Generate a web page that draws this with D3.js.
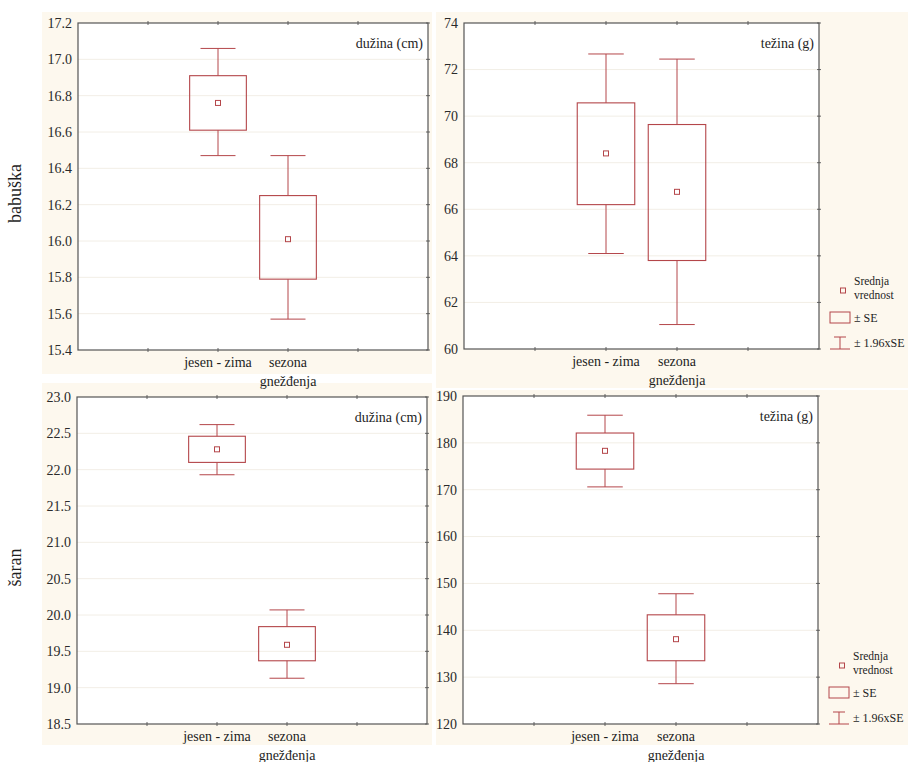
<!DOCTYPE html>
<html>
<head>
<meta charset="utf-8">
<script src="https://cdn.jsdelivr.net/npm/d3@7"></script>
<style>
  body { margin: 0; background: #fff; }
  svg { display: block; }
  svg text { font-family: "Liberation Serif", "DejaVu Serif", "Times New Roman", Times, serif; }
</style>
</head>
<body>
<svg id="chart" width="908" height="762"></svg>
<script>
// categories on the x axis (outer slots are empty, as in the original)
const groups = ['jesen - zima', 'sezona gnežđenja'];
const slots = ['left', ...groups, 'right'];
const species = ['babuška', 'šaran'];
const variables = ['dužina (cm)', 'težina (g)'];
const legendLabels = ['Srednja', 'vrednost', '± SE', '± 1.96xSE'];

// per group: [mean + 1.96SE, mean + SE, mean, mean - SE, mean - 1.96SE]
const babuskaDuzina = [[17.06, 16.91, 16.76, 16.61, 16.47], [16.47, 16.25, 16.01, 15.79, 15.57]];
const babuskaTezina = [[72.67, 70.57, 68.4, 66.2, 64.1], [72.45, 69.64, 66.75, 63.8, 61.05]];
const saranDuzina = [[22.62, 22.46, 22.28, 22.1, 21.93], [20.07, 19.84, 19.59, 19.37, 19.13]];
const saranTezina = [[185.9, 182.1, 178.3, 174.4, 170.6], [147.8, 143.3, 138.1, 133.5, 128.6]];

// y ticks
const babuskaDuzinaTicks = [15.4, 15.6, 15.8, 16.0, 16.2, 16.4, 16.6, 16.8, 17.0, 17.2];
const babuskaTezinaTicks = [60, 62, 64, 66, 68, 70, 72, 74];
const saranDuzinaTicks = [18.5, 19.0, 19.5, 20.0, 20.5, 21.0, 21.5, 22.0, 22.5, 23.0];
const saranTezinaTicks = [120, 130, 140, 150, 160, 170, 180, 190];

const red = '#b4464a';
const cream = '#fdf8ee';
const ink = '#1e1e1e';
const svg = d3.select('#chart');
const bgLayer = svg.append('g');

const panels = [
  { data: babuskaDuzina, ticks: babuskaDuzinaTicks, fmt: '.1f', title: variables[0], x: 78, y: 23, w: 350, h: 327, bg: [42, 12, 390, 362], legend: false },
  { data: babuskaTezina, ticks: babuskaTezinaTicks, fmt: 'd', title: variables[1], x: 464, y: 23, w: 355, h: 326, bg: [436, 12, 472, 376], legend: true },
  { data: saranDuzina, ticks: saranDuzinaTicks, fmt: '.1f', title: variables[0], x: 77, y: 397, w: 350, h: 327, bg: [42, 383, 390, 362], legend: false },
  { data: saranTezina, ticks: saranTezinaTicks, fmt: 'd', title: variables[1], x: 463, y: 396, w: 355, h: 328, bg: [436, 390, 472, 355], legend: true }
];

function drawPanel(p) {
  const [bx, by, bw, bh] = p.bg;
  bgLayer.append('rect').attr('x', bx).attr('y', by).attr('width', bw).attr('height', bh).attr('fill', cream);

  const g = svg.append('g').attr('transform', `translate(${p.x},${p.y})`);
  const x = d3.scalePoint().domain(slots).range([0, p.w]).padding(1);
  const y = d3.scaleLinear().domain(d3.extent(p.ticks)).range([p.h, 0]);
  const step = x.step();
  const fmt = d3.format(p.fmt);

  g.append('rect').attr('width', p.w).attr('height', p.h).attr('fill', '#fff');

  g.selectAll('.grid').data(p.ticks.slice(1, -1)).join('line')
    .attr('x1', 0).attr('x2', p.w).attr('y1', (d) => y(d)).attr('y2', (d) => y(d))
    .attr('stroke', '#f2eee6').attr('stroke-width', 1);

  // tick marks on all four sides
  g.selectAll('.ty').data(p.ticks).join('line')
    .attr('x1', p.w - 2).attr('x2', p.w + 2).attr('y1', (d) => y(d)).attr('y2', (d) => y(d))
    .attr('stroke', '#666');
  g.selectAll('.tx').data(slots).join('g').each(function (d) {
    const s = d3.select(this);
    s.append('line').attr('x1', x(d)).attr('x2', x(d)).attr('y1', -2).attr('y2', 2).attr('stroke', '#666');
    s.append('line').attr('x1', x(d)).attr('x2', x(d)).attr('y1', p.h - 2).attr('y2', p.h + 2).attr('stroke', '#666');
  });

  g.append('rect').attr('width', p.w).attr('height', p.h)
    .attr('fill', 'none').attr('stroke', '#555').attr('stroke-width', 1.2);

  g.selectAll('.yl').data(p.ticks).join('text')
    .attr('x', -6).attr('y', (d) => y(d)).attr('dy', '0.35em')
    .attr('text-anchor', 'end').attr('font-size', 14).attr('fill', '#2a2a2a')
    .text((d) => fmt(d));

  // x labels
  g.append('text').attr('x', x(groups[0])).attr('y', p.h + 17)
    .attr('text-anchor', 'middle').attr('font-size', 14).attr('fill', ink).text(groups[0]);
  const parts = groups[1].split(' ');
  parts.forEach((t, i) => {
    g.append('text').attr('x', x(groups[1])).attr('y', p.h + 17 + i * 19)
      .attr('text-anchor', 'middle').attr('font-size', 14).attr('fill', ink).text(t);
  });

  g.append('text').attr('x', p.w - 5).attr('y', 25)
    .attr('text-anchor', 'end').attr('font-size', 14).attr('fill', ink).text(p.title);

  const boxW = step * 0.81;
  const capW = step * 0.5;
  const boxes = g.selectAll('.box').data(p.data).join('g')
    .attr('transform', (d, i) => `translate(${x(groups[i])},0)`);
  boxes.append('line').attr('y1', (d) => y(d[0])).attr('y2', (d) => y(d[1])).attr('stroke', red);
  boxes.append('line').attr('y1', (d) => y(d[3])).attr('y2', (d) => y(d[4])).attr('stroke', red);
  boxes.append('line').attr('x1', -capW / 2).attr('x2', capW / 2).attr('y1', (d) => y(d[0])).attr('y2', (d) => y(d[0])).attr('stroke', red);
  boxes.append('line').attr('x1', -capW / 2).attr('x2', capW / 2).attr('y1', (d) => y(d[4])).attr('y2', (d) => y(d[4])).attr('stroke', red);
  boxes.append('rect').attr('x', -boxW / 2).attr('width', boxW)
    .attr('y', (d) => y(d[1])).attr('height', (d) => y(d[3]) - y(d[1]))
    .attr('fill', 'none').attr('stroke', red).attr('stroke-width', 1.1);
  boxes.append('rect').attr('x', -2.5).attr('width', 5)
    .attr('y', (d) => y(d[2]) - 2.5).attr('height', 5)
    .attr('fill', 'none').attr('stroke', red).attr('stroke-width', 1);

  if (p.legend) {
    const lg = g.append('g').attr('transform', `translate(${p.w},${p.h})`);
    lg.append('rect').attr('x', 21.5).attr('y', -61).attr('width', 5).attr('height', 5)
      .attr('fill', 'none').attr('stroke', red);
    lg.append('text').attr('x', 35).attr('y', -64).attr('font-size', 11.5).attr('fill', ink).text(legendLabels[0]);
    lg.append('text').attr('x', 35).attr('y', -50).attr('font-size', 11.5).attr('fill', ink).text(legendLabels[1]);
    lg.append('rect').attr('x', 11).attr('y', -37).attr('width', 20).attr('height', 11)
      .attr('fill', 'none').attr('stroke', red);
    lg.append('text').attr('x', 35).attr('y', -27).attr('font-size', 12).attr('fill', ink).text(legendLabels[2]);
    lg.append('line').attr('x1', 11).attr('x2', 31).attr('y1', 0).attr('y2', 0).attr('stroke', red);
    lg.append('line').attr('x1', 15).attr('x2', 27).attr('y1', -12).attr('y2', -12).attr('stroke', red);
    lg.append('line').attr('x1', 21).attr('x2', 21).attr('y1', -12).attr('y2', 0).attr('stroke', red);
    lg.append('text').attr('x', 35).attr('y', -2).attr('font-size', 12).attr('fill', ink).text(legendLabels[3]);
  }
}

panels.forEach(drawPanel);

// row labels
species.forEach((name, i) => {
  const p = panels[i * 2];
  svg.append('text')
    .attr('transform', `translate(21,${p.y + p.h / 2 + 7}) rotate(-90)`)
    .attr('text-anchor', 'middle').attr('font-size', 18).attr('fill', ink)
    .text(name);
});
</script>
</body>
</html>
